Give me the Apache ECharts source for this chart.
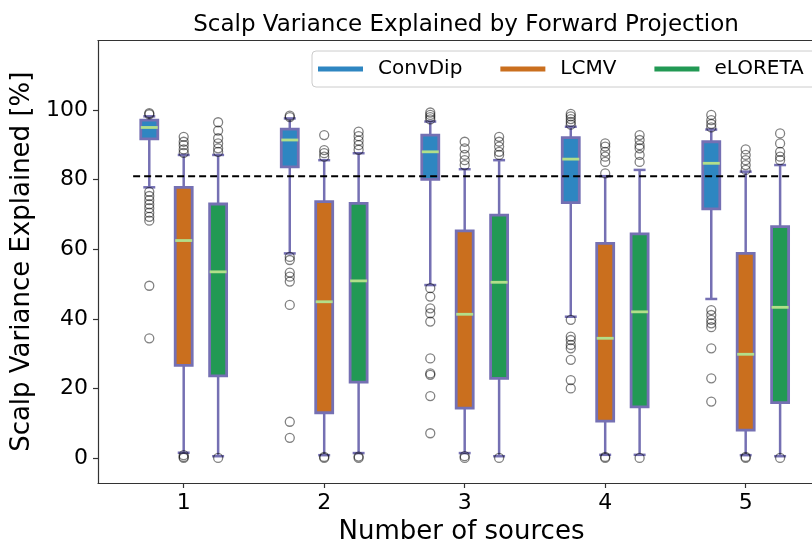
<!DOCTYPE html>
<html>
<head>
<meta charset="utf-8">
<script src="https://cdn.jsdelivr.net/npm/echarts@6/dist/echarts.min.js"></script>
<style>
html,body{margin:0;padding:0;background:#fff;}
#chart{width:812px;height:544px;}
</style>
</head>
<body>
<div id="chart"></div>
<script>
// ---- data ----
const groups = [1, 2, 3, 4, 5];
const methods = ['ConvDip', 'LCMV', 'eLORETA'];
const methodColors = ['#2E86C1', '#CA6F1E', '#229954'];
const threshold = 81;
const yTicks = [0, 20, 40, 60, 80, 100];

// [lowWhisker, q1, median, q3, highWhisker] per group
const convdipStats = [
  [77.8, 91.7, 95.0, 97.1, 98.2],
  [58.8, 83.7, 91.4, 94.5, 97.6],
  [49.7, 80.1, 88.0, 92.8, 96.7],
  [40.6, 73.4, 85.9, 92.1, 95.2],
  [45.7, 71.6, 84.7, 90.9, 94.4]
];
const lcmvStats = [
  [1.5, 26.6, 62.5, 77.8, 87.1],
  [0.8, 13.0, 44.9, 73.7, 85.6],
  [1.4, 14.3, 41.3, 65.3, 83.0],
  [0.9, 10.6, 34.4, 61.7, 81.0],
  [0.8, 8.0, 29.8, 58.8, 82.3]
];
const eloretaStats = [
  [0.5, 23.6, 53.5, 73.0, 87.1],
  [1.4, 21.8, 50.9, 73.2, 87.6],
  [0.5, 22.9, 50.5, 69.8, 85.6],
  [0.9, 14.7, 42.0, 64.4, 82.8],
  [0.5, 15.9, 43.3, 66.5, 84.2]
];

// outliers per group
const convdipOutliers = [
  [98.8, 99.1, 76.5, 75.3, 74.1, 72.9, 71.8, 70.5, 69.3, 68.2, 49.5, 34.4],
  [98.0, 98.4, 57.8, 56.9, 53.3, 52.1, 50.7, 44.0, 10.4, 5.8],
  [97.3, 98.0, 98.6, 99.3, 48.8, 46.4, 43.0, 41.6, 39.2, 28.6, 24.3, 23.9, 17.8, 7.1],
  [95.8, 96.6, 97.4, 98.2, 98.9, 39.7, 34.9, 33.9, 32.5, 31.5, 28.2, 22.4, 20.0],
  [95.0, 96.0, 97.1, 98.6, 42.5, 41.1, 39.7, 38.7, 37.6, 31.5, 22.9, 16.2]
];
const lcmvOutliers = [
  [87.7, 88.7, 89.9, 90.9, 92.3, 0.0, 0.3, 0.8],
  [86.6, 87.6, 88.5, 92.8, 0.0, 0.3],
  [84.2, 85.6, 87.1, 89.0, 90.9, 0.0, 0.5],
  [81.8, 85.1, 86.6, 88.0, 89.5, 90.4, 0.0, 0.3],
  [82.8, 84.2, 85.6, 87.1, 88.7, 0.0, 0.3]
];
const eloretaOutliers = [
  [88.0, 89.0, 90.4, 91.9, 94.1, 96.5, 0.0],
  [88.6, 89.9, 91.2, 92.5, 93.8, 0.0, 0.4],
  [87.1, 88.0, 89.5, 90.9, 92.3, 0.0],
  [85.1, 87.1, 89.0, 89.9, 91.4, 92.8, 0.0],
  [85.6, 86.6, 88.0, 90.4, 93.3, 0.0]
];

// ---- layout/style constants ----
const OFFSETS = [-0.245, 0, 0.245];
const BOX_W = 0.121;
const CAP_W = 0.085;
const EDGE = '#7570b3';
const MEDIAN = '#b2df8a';
const FONT = 'DejaVu Sans';

const allStats = [convdipStats, lcmvStats, eloretaStats];
const allOutliers = [convdipOutliers, lcmvOutliers, eloretaOutliers];

function renderBox(params, api) {
  const x = api.value(0);
  const pLo = api.coord([x, api.value(1)]);
  const pQ1 = api.coord([x, api.value(2)]);
  const pMed = api.coord([x, api.value(3)]);
  const pQ3 = api.coord([x, api.value(4)]);
  const pHi = api.coord([x, api.value(5)]);
  const bw = api.size([BOX_W, 0])[0];
  const cw = api.size([CAP_W, 0])[0];
  const cx = pLo[0];
  const color = api.visual('color');
  const ls = {stroke: EDGE, lineWidth: 2.5};
  return {
    type: 'group',
    children: [
      {type: 'line', shape: {x1: cx, y1: pLo[1], x2: cx, y2: pQ1[1]}, style: ls},
      {type: 'line', shape: {x1: cx, y1: pQ3[1], x2: cx, y2: pHi[1]}, style: ls},
      {type: 'line', shape: {x1: cx - cw / 2, y1: pLo[1], x2: cx + cw / 2, y2: pLo[1]}, style: ls},
      {type: 'line', shape: {x1: cx - cw / 2, y1: pHi[1], x2: cx + cw / 2, y2: pHi[1]}, style: ls},
      {type: 'rect', shape: {x: cx - bw / 2, y: pQ3[1], width: bw, height: pQ1[1] - pQ3[1]},
        style: {fill: color, stroke: EDGE, lineWidth: 2.8}},
      {type: 'line', shape: {x1: cx - bw / 2, y1: pMed[1], x2: cx + bw / 2, y2: pMed[1]},
        style: {stroke: MEDIAN, lineWidth: 2.8}}
    ]
  };
}

const series = [];
methods.forEach((m, k) => {
  series.push({
    name: m,
    type: 'custom',
    renderItem: renderBox,
    itemStyle: {color: methodColors[k]},
    encode: {x: 0, y: [1, 2, 3, 4, 5]},
    data: groups.map((g, i) => [g + OFFSETS[k]].concat(allStats[k][i])),
    z: 2,
    silent: true
  });
});
methods.forEach((m, k) => {
  const pts = [];
  groups.forEach((g, i) => {
    allOutliers[k][i].forEach(v => pts.push([g + OFFSETS[k], v]));
  });
  series.push({
    name: m + ' outliers',
    type: 'scatter',
    symbol: 'circle',
    symbolSize: 9,
    itemStyle: {color: 'rgba(0,0,0,0)', borderColor: 'rgba(0,0,0,0.62)', borderWidth: 1.3},
    data: pts,
    z: 4,
    silent: true
  });
});
series.push({
  name: 'threshold',
  type: 'line',
  data: [[0.64, threshold], [5.31, threshold]],
  symbol: 'none',
  lineStyle: {color: '#000', width: 2, type: [7, 4]},
  z: 3,
  silent: true
});

const chart = echarts.init(document.getElementById('chart'), null, {renderer: 'canvas'});
chart.setOption({
  animation: false,
  backgroundColor: '#fff',
  title: {
    text: 'Scalp Variance Explained by Forward Projection',
    left: 461,
    textAlign: 'center',
    top: 9,
    textStyle: {fontFamily: FONT, fontSize: 23, fontWeight: 'normal', color: '#000'}
  },
  legend: {
    left: 312,
    top: 51,
    width: 600,
    orient: 'horizontal',
    itemWidth: 45,
    itemHeight: 5,
    itemGap: 38,
    padding: [8, 40, 8, 6],
    backgroundColor: 'rgba(255,255,255,0.85)',
    borderColor: '#cccccc',
    borderWidth: 1,
    borderRadius: 4,
    textStyle: {fontFamily: FONT, fontSize: 20, color: '#000', padding: [0, 0, 0, 10], lineHeight: 20},
    data: methods.map((m, k) => ({name: m, icon: 'rect', itemStyle: {color: methodColors[k]}}))
  },
  grid: {left: 98, right: 0, top: 40.5, bottom: 61, containLabel: false, outerBoundsMode: 'none'},
  xAxis: [{
    type: 'value',
    min: 0.39,
    max: 5.472,
    interval: 1,
    splitLine: {show: false},
    axisLine: {show: true, onZero: false, lineStyle: {color: '#333', width: 1.2}},
    axisTick: {show: true, length: 5, lineStyle: {color: '#333', width: 1.2}, customValues: groups},
    axisLabel: {fontFamily: FONT, fontSize: 22, color: '#000', margin: 9, customValues: groups},
    name: 'Number of sources',
    nameLocation: 'middle',
    nameGap: 34,
    nameTextStyle: {fontFamily: FONT, fontSize: 26, color: '#000', padding: [0, 0, 0, 13]}
  }, {
    type: 'value',
    position: 'top',
    min: 0.39,
    max: 5.472,
    axisLine: {show: true, onZero: false, lineStyle: {color: '#333', width: 1.2}},
    axisTick: {show: false},
    axisLabel: {show: false},
    splitLine: {show: false}
  }],
  yAxis: {
    type: 'value',
    min: -7.2,
    max: 120,
    splitLine: {show: false},
    axisLine: {show: true, onZero: false, lineStyle: {color: '#333', width: 1.2}},
    axisTick: {show: true, length: 5, lineStyle: {color: '#333', width: 1.2}, customValues: yTicks},
    axisLabel: {fontFamily: FONT, fontSize: 22, color: '#000', margin: 10, customValues: yTicks},
    name: 'Scalp Variance Explained [%]',
    nameLocation: 'middle',
    nameGap: 61,
    nameTextStyle: {fontFamily: FONT, fontSize: 26, color: '#000'}
  },
  series: series
});
</script>
</body>
</html>
